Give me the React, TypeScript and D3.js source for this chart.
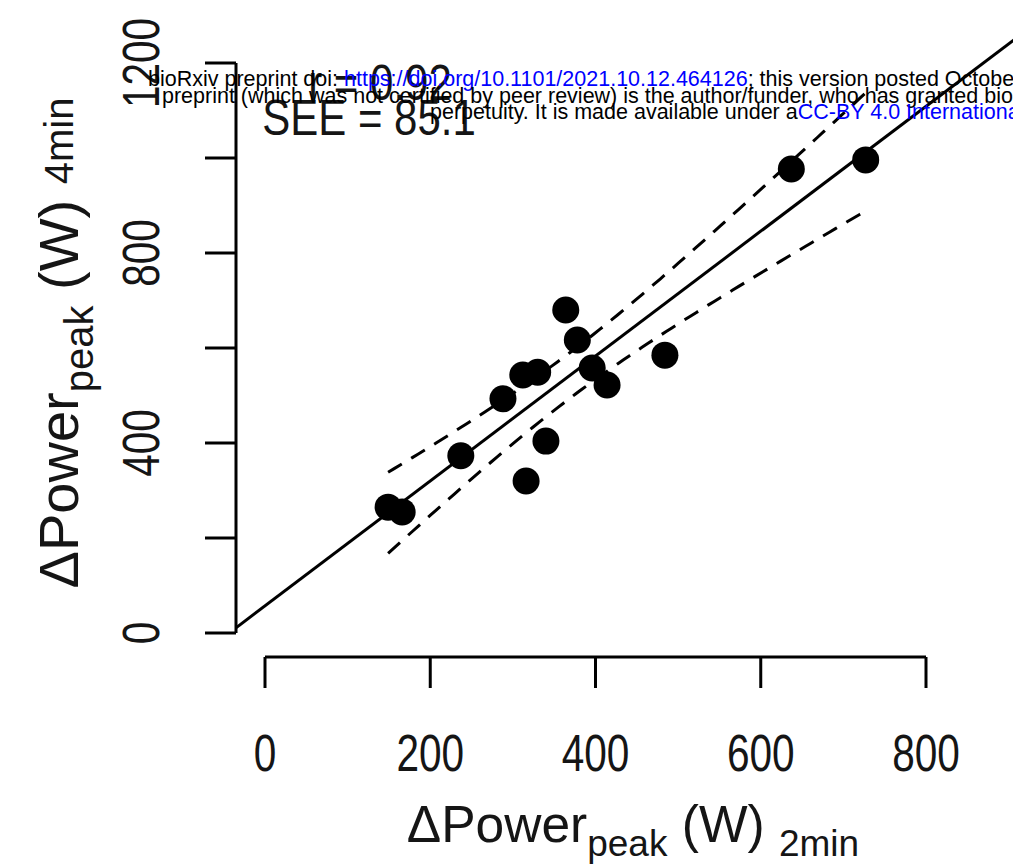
import React from "react";
import * as d3 from "d3";

// ---- data ----
const power2min = [149, 166, 237, 288, 312, 330, 316, 340, 364, 378, 396, 414, 484, 637, 727];
const power4min = [265, 255, 373, 493, 543, 549, 320, 404, 680, 617, 558, 522, 585, 977, 996];
const xTicks = [0, 200, 400, 600, 800];
const yTicks = [0, 200, 400, 600, 800, 1000, 1200];
const yTickLabels = [0, 400, 800, 1200];
const statLines = ["r = 0.92", "SEE = 85.1"];
const tCrit = 2.16; // 95% t, df = 13

const W = 1013;
const H = 867;
const FONT = "'Liberation Sans', Arial, Helvetica, sans-serif";
const INK = "#151515";

function fit(xs: number[], ys: number[]) {
  const n = xs.length;
  const mx = d3.mean(xs)!;
  const my = d3.mean(ys)!;
  let sxx = 0, sxy = 0;
  xs.forEach((x, i) => {
    sxx += (x - mx) * (x - mx);
    sxy += (x - mx) * (ys[i] - my);
  });
  const b = sxy / sxx;
  const a = my - b * mx;
  let ssr = 0;
  xs.forEach((x, i) => {
    const r = ys[i] - (a + b * x);
    ssr += r * r;
  });
  const s = Math.sqrt(ssr / (n - 2));
  return { a, b, s, n, mx, sxx };
}

export default function App() {
  const x = d3.scaleLinear().domain([0, 800]).range([265, 926]);
  const y = d3.scaleLinear().domain([0, 1200]).range([633, 63]);
  const axisX = 236; // y axis position
  const axisY = 657; // x axis position
  const tick = 31;

  const f = fit(power2min, power4min);
  const xMinPlot = x.invert(axisX);
  const xMaxPlot = x.invert(W + 50);
  const line = d3.line<[number, number]>().x((d) => x(d[0])).y((d) => y(d[1]));
  const regPts: [number, number][] = [
    [xMinPlot, f.a + f.b * xMinPlot],
    [xMaxPlot, f.a + f.b * xMaxPlot],
  ];
  const lo = d3.min(power2min)!;
  const hi = d3.max(power2min)!;
  const xs = d3.range(80).map((i) => lo + ((hi - lo) * i) / 79);
  const half = (v: number) =>
    tCrit * f.s * Math.sqrt(1 / f.n + ((v - f.mx) * (v - f.mx)) / f.sxx);
  const upper: [number, number][] = xs.map((v) => [v, f.a + f.b * v + half(v)]);
  const lower: [number, number][] = xs.map((v) => [v, f.a + f.b * v - half(v)]);

  const tickFont = 52;
  const condense = 0.78;
  const statPos = [
    { cx: 380, by: 100 },
    { cx: 369, by: 135 },
  ];

  return (
    <svg
      width={W}
      height={H}
      style={{ position: "absolute", left: 0, top: 0, background: "#fff" }}
      fontFamily={FONT}
    >
      <defs>
        <clipPath id="plotclip">
          <rect x={axisX} y={0} width={W - axisX} height={y(0)} />
        </clipPath>
      </defs>
      <rect x={0} y={0} width={W} height={H} fill="#fff" />

      {/* y axis */}
      <line x1={axisX} x2={axisX} y1={y(0)} y2={y(1200)} stroke="#000" strokeWidth={3} />
      {yTicks.map((t) => (
        <line key={t} x1={axisX - tick} x2={axisX} y1={y(t)} y2={y(t)} stroke="#000" strokeWidth={3} />
      ))}
      {yTickLabels.map((t) => (
        <g key={t} transform={`translate(159,${y(t)}) rotate(-90) scale(${condense},1)`}>
          <text x={0} y={0} textAnchor="middle" fontSize={tickFont} fill={INK}>
            {t}
          </text>
        </g>
      ))}

      {/* x axis */}
      <line x1={x(0)} x2={x(800)} y1={axisY} y2={axisY} stroke="#000" strokeWidth={3} />
      {xTicks.map((t) => (
        <line key={t} x1={x(t)} x2={x(t)} y1={axisY} y2={axisY + tick} stroke="#000" strokeWidth={3} />
      ))}
      {xTicks.map((t) => (
        <g key={t} transform={`translate(${x(t)},771) scale(${condense},1)`}>
          <text x={0} y={0} textAnchor="middle" fontSize={tickFont} fill={INK}>
            {t}
          </text>
        </g>
      ))}

      {/* axis titles */}
      <text x={633} y={842} textAnchor="middle" fontSize={51.5} fill={INK}>
        <tspan>ΔPower</tspan>
        <tspan fontSize={37} dy={14}>peak</tspan>
        <tspan fontSize={51.5} dy={-14}> (W) </tspan>
        <tspan fontSize={37} dy={14}>2min</tspan>
      </text>
      <g transform="translate(78,343) rotate(-90)">
        <text x={0} y={0} textAnchor="middle" fontSize={56} fill={INK}>
          <tspan>ΔPower</tspan>
          <tspan fontSize={40} dy={15}>peak</tspan>
          <tspan fontSize={56} dy={-15}> (W) </tspan>
          <tspan fontSize={40} dy={-5}>4min</tspan>
        </text>
      </g>

      {/* regression line and confidence band */}
      <g clipPath="url(#plotclip)">
        <path d={line(regPts)!} fill="none" stroke="#000" strokeWidth={3} />
      </g>
      <path d={line(upper)!} fill="none" stroke="#000" strokeWidth={3} strokeDasharray="16,11" />
      <path d={line(lower)!} fill="none" stroke="#000" strokeWidth={3} strokeDasharray="16,11" />

      {/* points */}
      {power2min.map((v, i) => (
        <circle key={i} cx={x(v)} cy={y(power4min[i])} r={13.5} fill="#000" />
      ))}

      {/* stats */}
      {statLines.map((s, i) => (
        <g key={s} transform={`translate(${statPos[i].cx},${statPos[i].by}) scale(0.84,1)`}>
          <text x={0} y={0} textAnchor="middle" fontSize={50} fill={INK}>
            {s}
          </text>
        </g>
      ))}

      {/* bioRxiv header */}
      <text fontSize={21.5} fill="#000">
        <tspan x={148} y={86}>bioRxiv preprint doi: </tspan>
        <tspan fill="#0000ff">https://doi.org/10.1101/2021.10.12.464126</tspan>
        <tspan>; this version posted October 13, 2021. The copyright holder for this</tspan>
        <tspan x={162} y={103}>preprint (which was not certified by peer review) is the author/funder, who has granted bioRxiv a license to display the preprint in</tspan>
        <tspan x={430} y={119}>perpetuity. It is made available under a</tspan>
        <tspan fill="#0000ff">CC-BY 4.0 International license</tspan>
        <tspan>.</tspan>
      </text>
    </svg>
  );
}
